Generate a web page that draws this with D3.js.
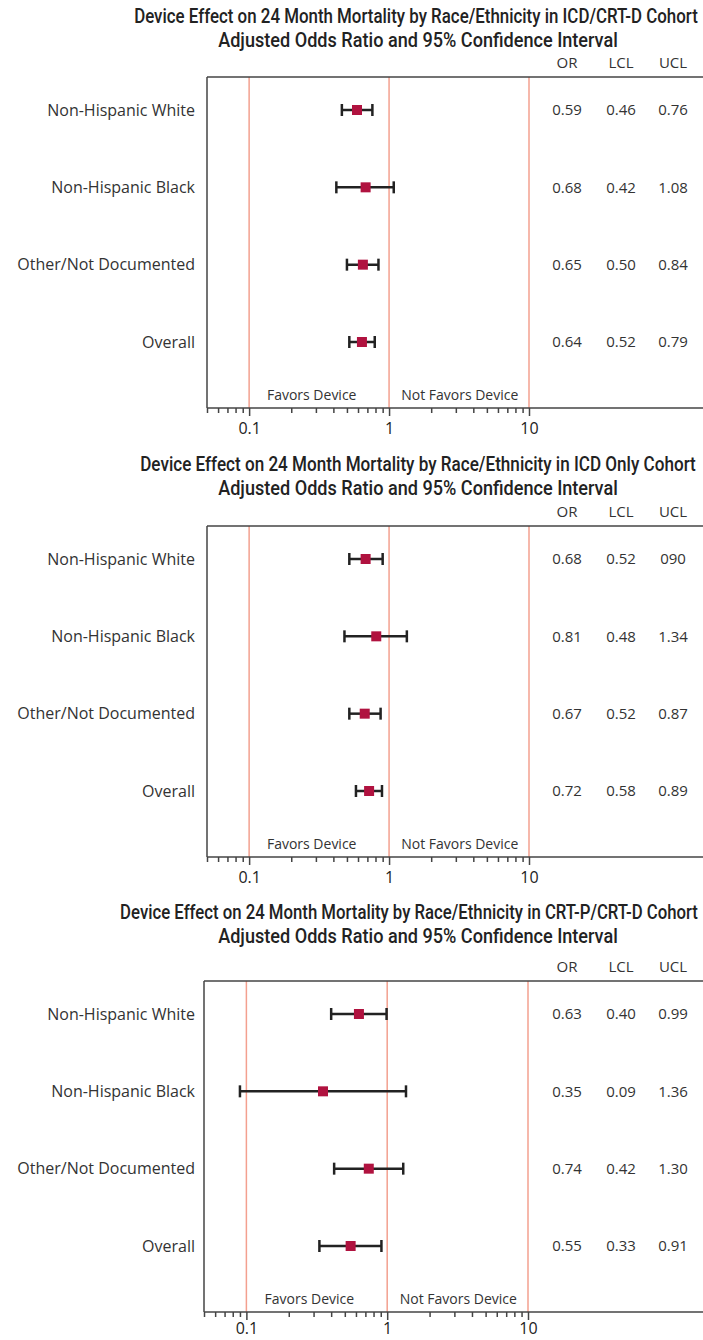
<!DOCTYPE html>
<html>
<head>
<meta charset="utf-8">
<script src="https://cdn.jsdelivr.net/npm/d3@7"></script>
<style>
  body { margin: 0; background: #fff; }
  svg { display: block; }
</style>
</head>
<body>
<svg width="703" height="1340"></svg>
<script>
var svg = d3.select("svg"),
  width = +svg.attr("width"),
  height = +svg.attr("height");

var groups = ["Non-Hispanic White", "Non-Hispanic Black", "Other/Not Documented", "Overall"];
var columns = ["OR", "LCL", "UCL"];
var tickLabels = [0.1, 1, 10];
var minorTicks = [0.05, 0.06, 0.07, 0.08, 0.09, 0.2, 0.3, 0.4, 0.5, 0.6, 0.7, 0.8, 0.9,
  2, 3, 4, 5, 6, 7, 8, 9];

var titles = [
  "Device Effect on 24 Month Mortality by Race/Ethnicity in ICD/CRT-D Cohort",
  "Device Effect on 24 Month Mortality by Race/Ethnicity in ICD Only Cohort",
  "Device Effect on 24 Month Mortality by Race/Ethnicity in CRT-P/CRT-D Cohort",
];
var subtitle = "Adjusted Odds Ratio and 95% Confidence Interval";

// odds ratios and confidence limits, one array per panel
var or1 = [0.59, 0.68, 0.65, 0.64];
var lcl1 = [0.46, 0.42, 0.5, 0.52];
var ucl1 = [0.76, 1.08, 0.84, 0.79];

var or2 = [0.68, 0.81, 0.67, 0.72];
var lcl2 = [0.52, 0.48, 0.52, 0.58];
var ucl2 = [0.9, 1.34, 0.87, 0.89];
var ucl2Text = ["090", "1.34", "0.87", "0.89"]; // as printed in the source

var or3 = [0.63, 0.35, 0.74, 0.55];
var lcl3 = [0.4, 0.09, 0.42, 0.33];
var ucl3 = [0.99, 1.36, 1.3, 0.91];

var fmt = d3.format(".2f");

var panels = [
  { title: titles[0], or: or1, lcl: lcl1, ucl: ucl1, uclText: ucl1.map(fmt),
    top: 0, t1: 23, t2: 47, tx: 416, tw: 564, x0: 207, x1: 529, tickDy: "0.95em" },
  { title: titles[1], or: or2, lcl: lcl2, ucl: ucl2, uclText: ucl2Text,
    top: 449, t1: 471, t2: 495, tx: 418, tw: 556, x0: 207, x1: 529, tickDy: "0.95em" },
  { title: titles[2], or: or3, lcl: lcl3, ucl: ucl3, uclText: ucl3.map(fmt),
    top: 904, t1: 919, t2: 943, tx: 409, tw: 578, x0: 204, x1: 528, tickDy: "0.7em" },
];

var titleFont = "Roboto, sans-serif";
var bodyFont = "'Open Sans', 'Noto Sans', sans-serif";
var refColor = "#f3a08f";
var markColor = "#b0123f";
var colX = [567, 621, 673];

// condensed title line: squeeze horizontally to a target width
function titleLine(g, txt, cx, cy, w) {
  var t = g.append("text")
    .attr("text-anchor", "middle")
    .attr("font-family", titleFont).attr("font-size", 20).attr("font-weight", 500)
    .attr("fill", "#222")
    .text(txt);
  var k = w / t.node().getComputedTextLength();
  t.attr("transform", "translate(" + cx + "," + cy + ") scale(" + k + ",1)");
}

panels.forEach(function (p) {
  var g = svg.append("g").attr("transform", "translate(0," + p.top + ")");
  var boxTop = 77, axisY = 408;

  var x = d3.scaleLog().domain([0.05, 10]).range([p.x0, p.x1]);
  var y = d3.scalePoint().domain(groups).range([110, 342]);

  titleLine(g, p.title, p.tx, p.t1 - p.top, p.tw);
  titleLine(g, subtitle, 418, p.t2 - p.top, 400);

  g.selectAll(".colhead")
    .data(columns)
    .enter()
    .append("text")
    .attr("x", function (d, i) { return colX[i]; })
    .attr("y", 68)
    .attr("text-anchor", "middle")
    .attr("font-family", bodyFont).attr("font-size", 15)
    .attr("fill", "#333")
    .text(function (d) { return d; });

  // reference lines
  g.selectAll(".ref")
    .data(tickLabels)
    .enter()
    .append("line")
    .attr("x1", function (d) { return x(d); })
    .attr("x2", function (d) { return x(d); })
    .attr("y1", boxTop).attr("y2", axisY)
    .attr("stroke", refColor).attr("stroke-width", 1.5);

  // frame
  g.append("line")
    .attr("x1", p.x0).attr("x2", width).attr("y1", boxTop).attr("y2", boxTop)
    .attr("stroke", "#444").attr("stroke-width", 1.5);
  g.append("line")
    .attr("x1", p.x0).attr("x2", p.x0).attr("y1", boxTop).attr("y2", axisY)
    .attr("stroke", "#444").attr("stroke-width", 1.5);
  g.append("line")
    .attr("x1", p.x0).attr("x2", width).attr("y1", axisY).attr("y2", axisY)
    .attr("stroke", "#444").attr("stroke-width", 1.5);

  // axis
  var minorAxis = d3.axisBottom(x).tickValues(minorTicks).tickSize(5).tickFormat("");
  var majorAxis = d3.axisBottom(x).tickValues(tickLabels).tickSize(8)
    .tickFormat(function (d) { return d; });
  g.append("g").attr("transform", "translate(0," + axisY + ")").call(minorAxis)
    .call(function (a) { a.select(".domain").remove(); })
    .selectAll("line").attr("stroke", "#444").attr("stroke-width", 1.5);
  var mg = g.append("g").attr("transform", "translate(0," + axisY + ")").call(majorAxis);
  mg.select(".domain").remove();
  mg.selectAll("line").attr("stroke", "#444").attr("stroke-width", 1.5);
  mg.selectAll("text")
    .attr("font-family", bodyFont).attr("font-size", 16)
    .attr("fill", "#222").attr("dy", p.tickDy);

  g.append("text")
    .attr("x", x(0.28)).attr("y", 400)
    .attr("text-anchor", "middle")
    .attr("font-family", bodyFont).attr("font-size", 14)
    .attr("fill", "#333")
    .text("Favors Device");
  g.append("text")
    .attr("x", x(3.2)).attr("y", 400)
    .attr("text-anchor", "middle")
    .attr("font-family", bodyFont).attr("font-size", 14)
    .attr("fill", "#333")
    .text("Not Favors Device");

  // row labels
  g.selectAll(".rowlab")
    .data(groups)
    .enter()
    .append("text")
    .attr("x", 195)
    .attr("y", function (d) { return y(d); })
    .attr("dy", "0.35em")
    .attr("text-anchor", "end")
    .attr("font-family", bodyFont).attr("font-size", 16)
    .attr("fill", "#333")
    .text(function (d) { return d; });

  // CI bars
  var rows = groups.map(function (d, i) {
    return { group: d, or: p.or[i], lcl: p.lcl[i], ucl: p.ucl[i], uclText: p.uclText[i] };
  });
  var r = g.selectAll(".row").data(rows).enter().append("g");
  r.append("line")
    .attr("x1", function (d) { return x(d.lcl); })
    .attr("x2", function (d) { return x(d.ucl); })
    .attr("y1", function (d) { return y(d.group); })
    .attr("y2", function (d) { return y(d.group); })
    .attr("stroke", "#222").attr("stroke-width", 2.5);
  ["lcl", "ucl"].forEach(function (k) {
    r.append("line")
      .attr("x1", function (d) { return x(d[k]); })
      .attr("x2", function (d) { return x(d[k]); })
      .attr("y1", function (d) { return y(d.group) - 6; })
      .attr("y2", function (d) { return y(d.group) + 6; })
      .attr("stroke", "#222").attr("stroke-width", 2.5);
  });
  r.append("rect")
    .attr("x", function (d) { return x(d.or) - 5; })
    .attr("y", function (d) { return y(d.group) - 5; })
    .attr("width", 10).attr("height", 10)
    .attr("fill", markColor);

  // value columns
  var cols = [
    function (d) { return fmt(d.or); },
    function (d) { return fmt(d.lcl); },
    function (d) { return d.uclText; },
  ];
  cols.forEach(function (f, ci) {
    r.append("text")
      .attr("x", colX[ci])
      .attr("y", function (d) { return y(d.group); })
      .attr("dy", "0.35em")
      .attr("text-anchor", "middle")
      .attr("font-family", bodyFont).attr("font-size", 15)
      .attr("fill", "#333")
      .text(f);
  });
});
</script>
</body>
</html>
